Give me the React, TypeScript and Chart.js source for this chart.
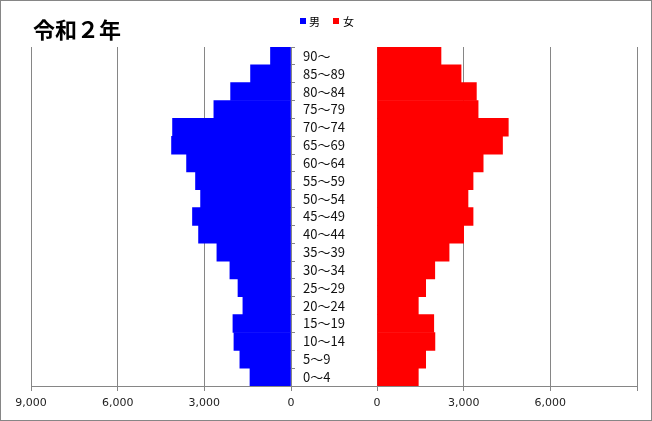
import React, { useEffect, useRef } from "react";
import { Chart, registerables } from "chart.js";

Chart.register(...registerables);

// ---- data (top to bottom as displayed) ----
const ageGroups = [
  "90～", "85～89", "80～84", "75～79", "70～74", "65～69", "60～64",
  "55～59", "50～54", "45～49", "40～44", "35～39", "30～34", "25～29",
  "20～24", "15～19", "10～14", "5～9", "0～4",
];
const maleValues = [
  710, 1400, 2090, 2670, 4100, 4135, 3615, 3305, 3130, 3410, 3200, 2565,
  2115, 1835, 1665, 2010, 1975, 1770, 1420,
];
const femaleValues = [
  2215, 2910, 3440, 3500, 4545, 4345, 3675, 3325, 3150, 3325, 3000, 2495,
  2000, 1685, 1430, 1965, 2005, 1685, 1430,
];
const axisMax = 9000;
const axisStep = 3000;
const titleText = "令和２年";
const maleLabel = "男";
const femaleLabel = "女";

// ---- layout / style ----
const W = 652;
const H = 421;
const TOP = 47;
const BOTTOM = 386;
const L_LEFT = 31;
const L_RIGHT = 291;
const R_LEFT = 377;
const R_RIGHT = 637;
const GRID = "#868686";
const TEXT = "#222222";
const MALE_COLOR = "#0000FF";
const FEMALE_COLOR = "#FF0000";
const numFont = { family: "'DejaVu Sans', 'Noto Sans CJK JP', sans-serif", size: 11 };
const labelFont = { family: "'Noto Sans CJK JP', sans-serif", size: 13 };

const fmt = (v: number) => Number(v).toLocaleString("en-US");

export default function App() {
  const leftRef = useRef<HTMLCanvasElement | null>(null);
  const rightRef = useRef<HTMLCanvasElement | null>(null);

  useEffect(() => {
    const xAfterFit = (s: any) => {
      s.height = H - BOTTOM;
      s.paddingLeft = 0;
      s.paddingRight = 0;
    };
    const left = new Chart(leftRef.current as HTMLCanvasElement, {
      type: "bar",
      data: {
        labels: ageGroups,
        datasets: [
          {
            label: maleLabel,
            data: maleValues,
            backgroundColor: MALE_COLOR,
            borderWidth: 0,
            categoryPercentage: 1,
            barPercentage: 1,
          },
        ],
      },
      options: {
        indexAxis: "y",
        animation: false,
        responsive: false,
        layout: { padding: { left: L_LEFT, top: TOP, right: W - R_LEFT, bottom: 0 } },
        plugins: { legend: { display: false }, tooltip: { enabled: false }, title: { display: false } },
        scales: {
          x: {
            type: "linear",
            reverse: true,
            min: 0,
            max: axisMax,
            ticks: {
              stepSize: axisStep,
              callback: (v: any) => fmt(v),
              font: numFont,
              color: TEXT,
              padding: 6,
              maxRotation: 0,
            },
            grid: { color: GRID, tickLength: 5 },
            border: { color: GRID },
            afterFit: xAfterFit,
          },
          y: {
            position: "right",
            grid: { drawOnChartArea: false, color: GRID, tickLength: 4 },
            border: { color: GRID },
            ticks: { font: labelFont, color: "#111111", padding: 8, autoSkip: false },
            afterFit: (s: any) => {
              s.width = R_LEFT - L_RIGHT;
              s.paddingTop = 0;
              s.paddingBottom = 0;
            },
          },
        },
      },
    } as any);

    const right = new Chart(rightRef.current as HTMLCanvasElement, {
      type: "bar",
      data: {
        labels: ageGroups,
        datasets: [
          {
            label: femaleLabel,
            data: femaleValues,
            backgroundColor: FEMALE_COLOR,
            borderWidth: 0,
            categoryPercentage: 1,
            barPercentage: 1,
          },
        ],
      },
      options: {
        indexAxis: "y",
        animation: false,
        responsive: false,
        layout: { padding: { left: R_LEFT, top: TOP, right: W - R_RIGHT, bottom: 0 } },
        plugins: { legend: { display: false }, tooltip: { enabled: false }, title: { display: false } },
        scales: {
          x: {
            type: "linear",
            min: 0,
            max: axisMax,
            ticks: {
              stepSize: axisStep,
              callback: (v: any) => (Number(v) >= axisMax ? "" : fmt(v)),
              font: numFont,
              color: TEXT,
              padding: 6,
              maxRotation: 0,
            },
            grid: { color: GRID, tickLength: 5 },
            border: { color: GRID },
            afterFit: xAfterFit,
          },
          y: { display: false },
        },
      },
    } as any);

    return () => {
      left.destroy();
      right.destroy();
    };
  }, []);

  return (
    <div
      style={{
        position: "fixed",
        left: 0,
        top: 0,
        width: W,
        height: H,
        background: "#ffffff",
        overflow: "hidden",
      }}
    >
      <canvas ref={leftRef} width={W} height={H} style={{ position: "absolute", left: 0, top: 0 }} />
      <canvas ref={rightRef} width={W} height={H} style={{ position: "absolute", left: 0, top: 0 }} />
      <div
        style={{
          position: "absolute",
          left: L_RIGHT,
          top: BOTTOM,
          width: R_LEFT - L_RIGHT,
          height: 1,
          background: GRID,
        }}
      />
      <div
        style={{
          position: "absolute",
          left: 33,
          top: 16,
          fontFamily: "'Noto Sans CJK JP', sans-serif",
          fontWeight: 700,
          fontSize: 22,
          lineHeight: "24px",
          color: "#000",
          whiteSpace: "nowrap",
        }}
      >
        {titleText}
      </div>
      <div
        style={{
          position: "absolute",
          left: 300,
          top: 13,
          display: "flex",
          alignItems: "center",
          fontFamily: "'Noto Sans CJK JP', sans-serif",
          fontSize: 11,
          lineHeight: "16px",
          color: "#000",
          whiteSpace: "nowrap",
        }}
      >
        <span style={{ display: "inline-block", width: 6, height: 6, background: MALE_COLOR, marginRight: 3 }} />
        <span>{maleLabel}</span>
        <span style={{ display: "inline-block", width: 6, height: 6, background: FEMALE_COLOR, marginLeft: 13, marginRight: 4 }} />
        <span>{femaleLabel}</span>
      </div>
      <div
        style={{
          position: "absolute",
          left: 0,
          top: 0,
          width: W,
          height: H,
          boxSizing: "border-box",
          border: `1px solid ${GRID}`,
          pointerEvents: "none",
        }}
      />
    </div>
  );
}
